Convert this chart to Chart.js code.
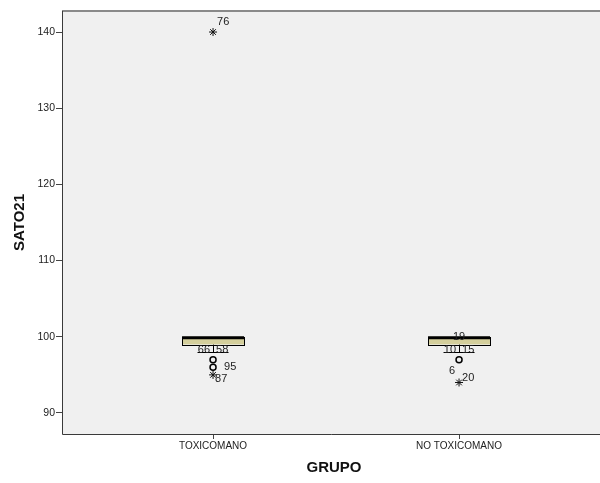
<!DOCTYPE html>
<html>
<head>
<meta charset="utf-8">
<script src="https://cdn.jsdelivr.net/npm/chart.js@4.4.1/dist/chart.umd.min.js"></script>
<style>
  html, body { margin: 0; padding: 0; background: #ffffff; }
  #wrap { width: 600px; height: 483px; }
</style>
</head>
<body>
<div id="wrap"><canvas id="c" width="600" height="483"></canvas></div>
<script>
// Groups and SATO21 box summaries
const categories = ['TOXICOMANO', 'NO TOXICOMANO'];
const q1 = [99, 99];
const medians = [100, 100];
const q3 = [100, 100];
const whiskerLow = [98, 98];
const whiskerHigh = [100, 100];

// Outliers (circles) and extremes (stars): group index, value
const outlierGroup = [0, 0, 1];
const outlierValue = [97, 96, 97];
const extremeGroup = [0, 0, 1];
const extremeValue = [140, 95, 94];

// Case labels: group index, value they sit at, text
const caseGroup = [0, 0, 0, 0, 0, 1, 1, 1, 1, 1];
const caseValue = [140, 98, 98, 96, 95, 100, 98, 98, 97, 94];
const caseText  = ['76', '66', '58', '95', '87', '19', '10', '15', '6', '20'];

const yTicks = [90, 100, 110, 120, 130, 140];

// Label placement around each marker (dx, dy in px, alignment)
const caseStyle = [
  { dx: 4,  dy: -10, align: 'left' },
  { dx: -3, dy: -2,  align: 'right' },
  { dx: 3,  dy: -2,  align: 'left' },
  { dx: 11, dy: 0,   align: 'left' },
  { dx: 2,  dy: 4,   align: 'left' },
  { dx: 0,  dy: 0,   align: 'center' },
  { dx: -3, dy: -2,  align: 'right' },
  { dx: 3,  dy: -2,  align: 'left' },
  { dx: -4, dy: 11,  align: 'right' },
  { dx: 3,  dy: -5,  align: 'left' }
];

const FONT = '"Liberation Sans", Arial, sans-serif';

const boxPlugin = {
  id: 'boxPlugin',
  beforeDatasetsDraw(chart) {
    const { ctx, chartArea: a, scales: { x, y } } = chart;
    ctx.save();
    // plot background
    ctx.fillStyle = '#f0f0f0';
    ctx.fillRect(a.left, a.top, a.right - a.left, a.bottom - a.top);
    const boxW = 62;
    for (let i = 0; i < categories.length; i++) {
      const cx = x.getPixelForValue(i + 1);
      const yq1 = y.getPixelForValue(q1[i]);
      const yq3 = y.getPixelForValue(q3[i]);
      const ylo = y.getPixelForValue(whiskerLow[i]);
      const yhi = y.getPixelForValue(whiskerHigh[i]);
      const ymed = y.getPixelForValue(medians[i]);
      ctx.strokeStyle = '#000';
      ctx.lineWidth = 1;
      // whiskers
      ctx.beginPath();
      ctx.moveTo(Math.round(cx) + 0.5, yq1); ctx.lineTo(Math.round(cx) + 0.5, ylo);
      ctx.moveTo(Math.round(cx) + 0.5, yq3); ctx.lineTo(Math.round(cx) + 0.5, yhi);
      ctx.moveTo(cx - boxW / 4, Math.round(ylo) + 0.5); ctx.lineTo(cx + boxW / 4, Math.round(ylo) + 0.5);
      ctx.moveTo(cx - boxW / 4, Math.round(yhi) + 0.5); ctx.lineTo(cx + boxW / 4, Math.round(yhi) + 0.5);
      ctx.stroke();
      // box
      ctx.fillStyle = '#d4cf9c';
      ctx.fillRect(cx - boxW / 2, yq3, boxW, yq1 - yq3);
      ctx.strokeRect(Math.round(cx - boxW / 2) + 0.5, Math.round(yq3) + 0.5, boxW, Math.round(yq1 - yq3));
      // median
      ctx.lineWidth = 3;
      ctx.beginPath();
      ctx.moveTo(cx - boxW / 2, ymed + 1); ctx.lineTo(cx + boxW / 2, ymed + 1);
      ctx.stroke();
    }
    ctx.restore();
  },
  afterDatasetsDraw(chart) {
    const { ctx, chartArea: a, scales: { x, y } } = chart;
    ctx.save();
    ctx.fillStyle = '#222';
    ctx.font = '11px ' + FONT;
    ctx.textBaseline = 'middle';
    for (let i = 0; i < caseText.length; i++) {
      const s = caseStyle[i];
      ctx.textAlign = s.align;
      ctx.fillText(caseText[i], x.getPixelForValue(caseGroup[i] + 1) + s.dx, y.getPixelForValue(caseValue[i]) + s.dy);
    }
    // frame
    ctx.strokeStyle = '#8a8a8a';
    ctx.lineWidth = 2;
    ctx.beginPath();
    ctx.moveTo(a.left, a.top); ctx.lineTo(a.right, a.top);
    ctx.stroke();
    ctx.strokeStyle = '#3a3a3a';
    ctx.lineWidth = 1;
    ctx.beginPath();
    ctx.moveTo(a.left + 0.5, a.top); ctx.lineTo(a.left + 0.5, a.bottom + 0.5); ctx.lineTo(a.right, a.bottom + 0.5);
    ctx.stroke();
    // axis titles
    ctx.fillStyle = '#111';
    ctx.font = 'bold 15px ' + FONT;
    ctx.textAlign = 'center';
    ctx.fillText('GRUPO', 334, 468);
    ctx.translate(20, (a.top + a.bottom) / 2);
    ctx.rotate(-Math.PI / 2);
    ctx.fillText('SATO21', 0, 0);
    ctx.restore();
  }
};

new Chart(document.getElementById('c'), {
  type: 'scatter',
  data: {
    datasets: [
      {
        data: outlierValue.map((v, i) => ({ x: outlierGroup[i] + 1, y: v })),
        pointStyle: 'circle',
        radius: 3,
        borderColor: '#000',
        borderWidth: 1.5,
        backgroundColor: 'rgba(0,0,0,0)'
      },
      {
        data: extremeValue.map((v, i) => ({ x: extremeGroup[i] + 1, y: v })),
        pointStyle: 'star',
        radius: 4,
        borderColor: '#111',
        borderWidth: 1,
        backgroundColor: '#111'
      }
    ]
  },
  options: {
    responsive: false,
    animation: false,
    layout: { autoPadding: false, padding: { top: 11, right: 0, left: 0, bottom: 0 } },
    plugins: { legend: { display: false }, tooltip: { enabled: false } },
    scales: {
      x: {
        type: 'linear',
        min: 0.386,
        max: 2.573,
        afterBuildTicks: s => { s.ticks = categories.map((c, i) => ({ value: i + 1 })); },
        afterFit: s => { s.height = 49; },
        ticks: {
          callback: v => categories[v - 1],
          color: '#222',
          font: { family: FONT, size: 10 },
          padding: 1,
          maxRotation: 0,
          autoSkip: false
        },
        grid: { drawOnChartArea: false, tickLength: 5, color: '#444', tickWidth: 1 },
        border: { display: false }
      },
      y: {
        min: 87.24,
        max: 142.76,
        afterBuildTicks: s => { s.ticks = yTicks.map(v => ({ value: v })); },
        afterFit: s => { s.width = 62; },
        ticks: {
          color: '#222',
          font: { family: FONT, size: 10.5 },
          padding: 1
        },
        grid: { drawOnChartArea: false, tickLength: 6, color: '#444', tickWidth: 1 },
        border: { display: false }
      }
    }
  },
  plugins: [boxPlugin]
});
</script>
</body>
</html>
